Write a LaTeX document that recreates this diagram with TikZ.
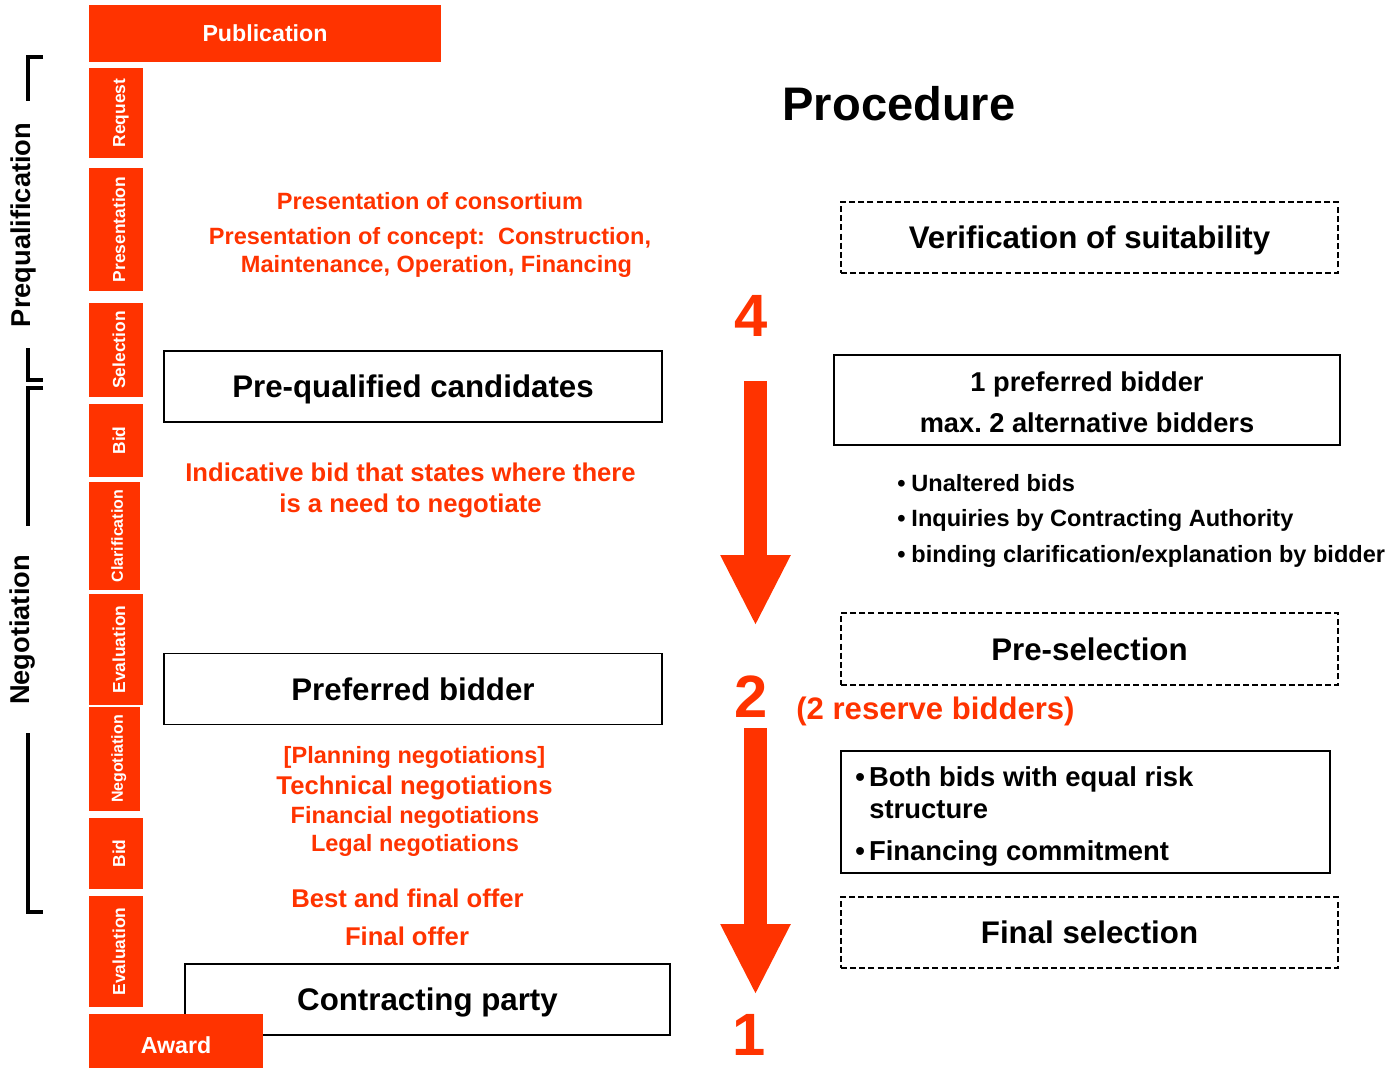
\documentclass[tikz,border=0pt]{standalone}
\usepackage{fontspec}
\setmainfont{Liberation Sans}
\usetikzlibrary{arrows.meta}

\begin{document}
\begin{tikzpicture}
			[x=0.02cm,y=-0.02cm,
			%Styles
			bar/.style={fill=procred,text=white,inner sep=0pt,font=\bfseries\fontsize{13.2}{16}\selectfont},
			tab/.style={bar,rotate=90,minimum height=1.08cm,text height=10.4pt,text depth=0pt,font=\bfseries\fontsize{9.9}{12}\selectfont},
			narrow tab/.style={tab,minimum height=1.02cm,text height=9.6pt,font=\bfseries\fontsize{9.1}{11}\selectfont},
			phase/.style={rotate=90,inner sep=0pt,font=\bfseries\fontsize{15.5}{18}\selectfont},
			bracket/.style={line width=0.08cm},
			stage box/.style={draw,line width=1.1pt,minimum height=1.42cm,inner sep=0pt,text depth=0pt,font=\bfseries\fontsize{17.8}{21}\selectfont},
			check box/.style={stage box,line width=0.85pt,dash pattern=on 3.4pt off 1.8pt},
			red text/.style={text=procred,anchor=base,inner sep=0pt,font=\bfseries\fontsize{13.4}{16}\selectfont},
			big red text/.style={red text,font=\bfseries\fontsize{14.6}{17}\selectfont},
			count/.style={text=procred,inner sep=0pt,font=\bfseries\fontsize{34}{40}\selectfont},
			item text/.style={anchor=base west,inner sep=0pt,font=\bfseries\fontsize{13.4}{16}\selectfont},
			line text/.style={anchor=base,inner sep=0pt,font=\bfseries\fontsize{15.5}{18}\selectfont},
			funnel/.style={draw=procred,line width=0.46cm,-{Triangle[length=1.42cm,width=1.3cm]}}
			]
			
			%Colors
			\definecolor{procred}{RGB}{255,51,0}
			
			\useasboundingbox (0,0) rectangle (1393,1068);
			
			%Steps on the left
			\node[bar,minimum width=7.04cm,minimum height=1.14cm] (publication) at (265,33.5) {Publication};
			\node[tab,minimum width=1.8cm] (request) at (116,113) {Request};
			\node[tab,minimum width=2.46cm] (presentation) at (116,229.5) {Presentation};
			\node[tab,minimum width=1.88cm] (selection) at (116,350) {Selection};
			\node[tab,minimum width=1.46cm] (bid1) at (116,440.5) {Bid};
			\node[narrow tab,minimum width=2.16cm] (clarification) at (114.5,536) {Clarification};
			\node[tab,minimum width=2.22cm] (evaluation1) at (116,649.5) {Evaluation};
			\node[narrow tab,minimum width=2.08cm] (negotiationstep) at (114.5,759) {Negotiation};
			\node[tab,minimum width=1.42cm] (bid2) at (116,853.5) {Bid};
			\node[tab,minimum width=2.22cm] (evaluation2) at (116,951.5) {Evaluation};
			
			%Phases
			\node[phase] (prequal) at (23,225) {Prequalification};
			\node[phase] (negotiation) at (23,630) {Negotiation};
			\draw[bracket] (43,57) -- (28,57) -- (28,101);
			\draw[bracket] (28,348) -- (28,380) -- (43,380);
			\draw[bracket] (43,388) -- (28,388) -- (28,526);
			\draw[bracket] (28,733) -- (28,912) -- (43,912);
			
			\node[anchor=base,inner sep=0pt,font=\bfseries\fontsize{26.8}{32}\selectfont] (procedure) at (899,121) {Procedure};
			
			%Middle column
			\node[red text] (consortium) at (430,209.5) {Presentation of consortium};
			\node[red text] (concept) at (430,244.4) {Presentation of concept:\ \ Construction,};
			\node[red text] (lifecycle) at (436.5,272.4) {Maintenance, Operation, Financing};
			\node[stage box,minimum width=9.96cm] (prequalified) at (413,386.5) {Pre-qualified candidates};
			\node[big red text] (indicative) at (410.5,481) {Indicative bid that states where there};
			\node[big red text] (needline) at (410.5,512) {is a need to negotiate};
			\node[stage box,minimum width=9.96cm] (preferred) at (413,689) {Preferred bidder};
			\node[red text] (planning) at (414.5,763.5) {[Planning negotiations]};
			\node[big red text] (technical) at (414.5,794) {Technical negotiations};
			\node[red text] (financial) at (415,823.5) {Financial negotiations};
			\node[red text] (legal) at (415,851.5) {Legal negotiations};
			\node[big red text] (bafo) at (407.5,907) {Best and final offer};
			\node[big red text] (finaloffer) at (407,945) {Final offer};
			\node[stage box,minimum width=9.7cm] (contracting) at (427.5,999.5) {Contracting party};
			\node[bar,minimum width=3.48cm,minimum height=1.24cm] (award) at (176,1045) {Award};
			
			%Numbers and arrows
			\node[count] (four) at (751,316) {4};
			\node[count] (two) at (751,697) {2};
			\node[count] (one) at (749.5,1035) {1};
			\coordinate (flow1top) at (755.5,381);
			\coordinate (flow1tip) at (755.5,626);
			\coordinate (flow2top) at (755.5,728);
			\coordinate (flow2tip) at (755.5,995);
			\draw[funnel] (flow1top) -- (flow1tip);
			\draw[funnel] (flow2top) -- (flow2tip);
			\node[red text,anchor=base west,font=\bfseries\fontsize{17.7}{21}\selectfont] (reserve) at (796,719) {(2 reserve bidders)};
			
			%Right column
			\node[check box,minimum width=9.94cm] (suitability) at (1089.5,237.5) {Verification of suitability};
			\node[stage box,minimum width=10.12cm,minimum height=1.8cm] (shortlist) at (1087,400) {};
			\node[line text] (onepreferred) at (1087,391) {1 preferred bidder};
			\node[line text] (alternatives) at (1087,432) {max.\ 2 alternative bidders};
			\node[item text] (unaltered) at (897,491.5) {•\hspace{0.25em}Unaltered bids};
			\node[item text] (inquiries) at (897,526.5) {•\hspace{0.25em}Inquiries by Contracting Authority};
			\node[item text] (binding) at (897,562.5) {•\hspace{0.25em}binding clarification/explanation by bidder};
			\node[check box,minimum width=9.94cm,minimum height=1.44cm] (preselection) at (1089.5,649) {Pre-selection};
			\node[stage box,minimum width=9.78cm,minimum height=2.44cm] (riskbox) at (1085.5,812) {};
			\node[item text,font=\bfseries\fontsize{15.6}{18}\selectfont] (equalrisk) at (855,786) {•\hspace{0.15em}Both bids with equal risk};
			\node[item text,font=\bfseries\fontsize{15.6}{18}\selectfont] (structure) at (869,818) {structure};
			\node[item text,font=\bfseries\fontsize{15.6}{18}\selectfont] (commitment) at (855,860) {•\hspace{0.15em}Financing commitment};
			\node[check box,minimum width=9.94cm] (finalselection) at (1089.5,932.5) {Final selection};
		\end{tikzpicture}
\end{document}
